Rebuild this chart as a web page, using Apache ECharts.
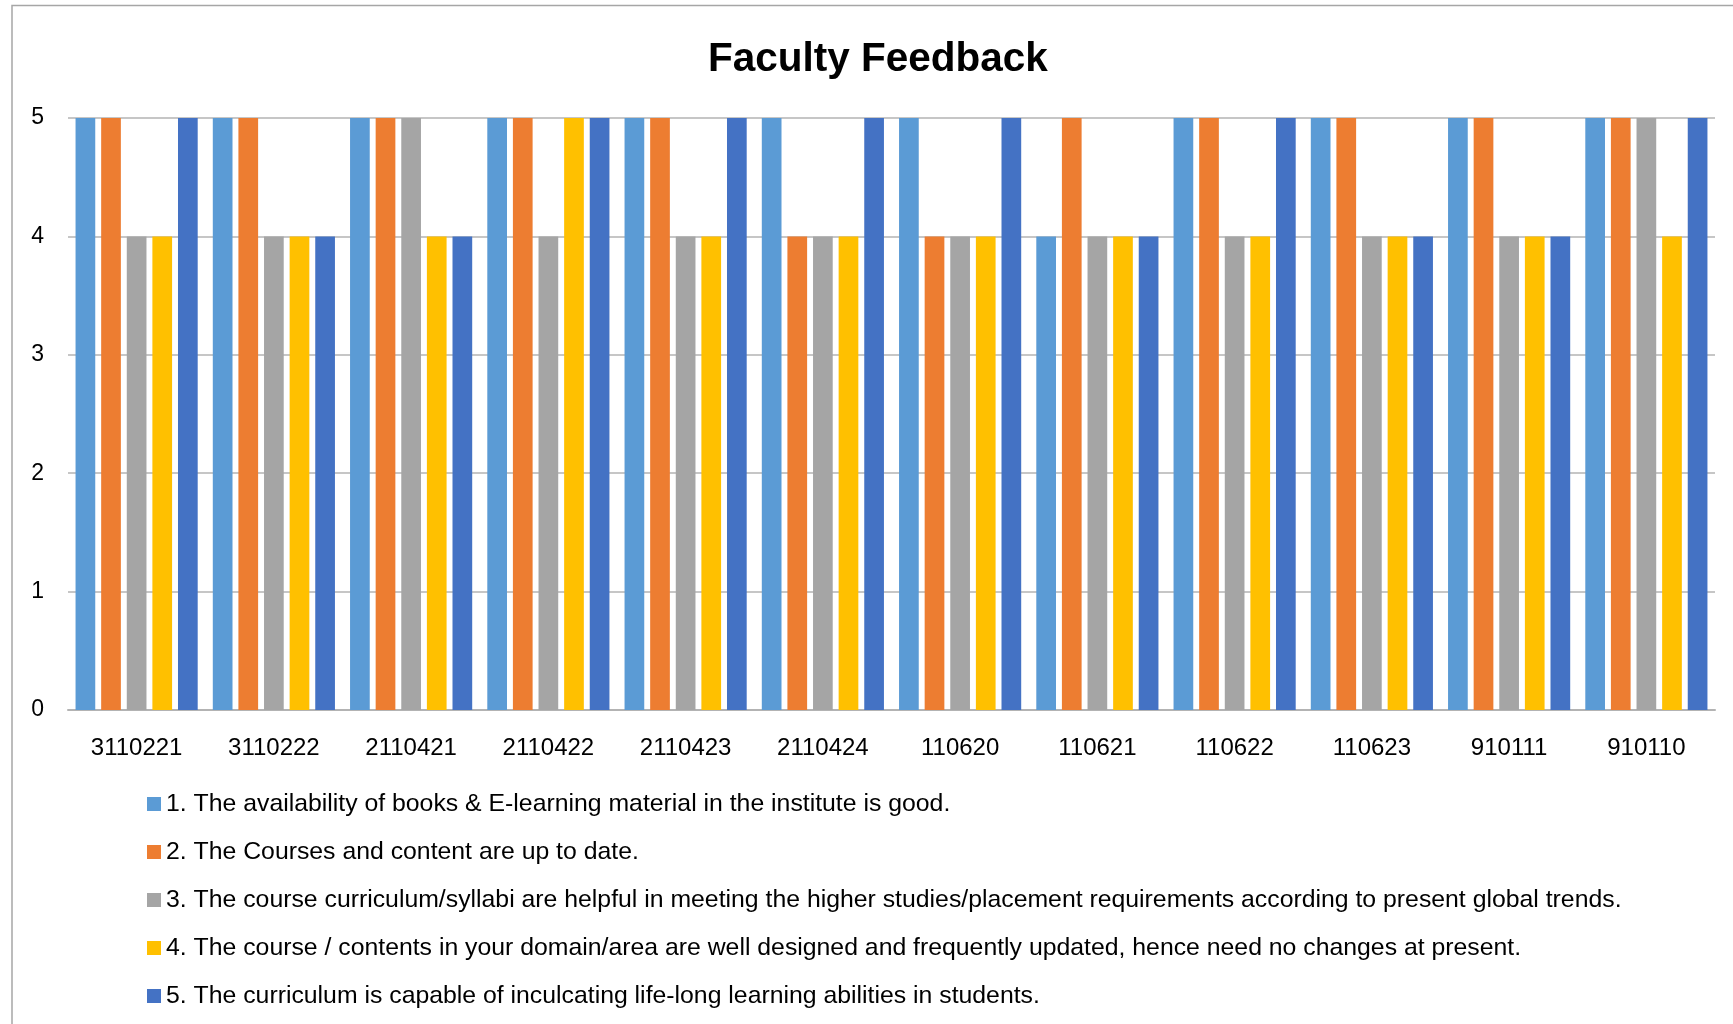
<!DOCTYPE html>
<html>
<head>
<meta charset="utf-8">
<title>Faculty Feedback</title>
<script src="https://cdn.jsdelivr.net/npm/echarts@6/dist/echarts.min.js"></script>
<style>
  html, body { margin: 0; padding: 0; background: #fff; }
  #chart { width: 1733px; height: 1024px; }
</style>
</head>
<body>
<div id="chart"></div>
<script>
const categories = ['3110221', '3110222', '2110421', '2110422', '2110423', '2110424',
  '110620', '110621', '110622', '110623', '910111', '910110'];

const seriesNames = [
  '1. The availability of books & E-learning material in the institute is good.',
  '2. The Courses and content are up to date.',
  '3. The course curriculum/syllabi are helpful in meeting the higher studies/placement requirements according to present global trends.',
  '4. The course / contents in your domain/area are well designed and frequently updated, hence need no changes at present.',
  '5. The curriculum is capable of inculcating life-long learning abilities in students.'
];

const q1 = [5, 5, 5, 5, 5, 5, 5, 4, 5, 5, 5, 5];
const q2 = [5, 5, 5, 5, 5, 4, 4, 5, 5, 5, 5, 5];
const q3 = [4, 4, 5, 4, 4, 4, 4, 4, 4, 4, 4, 5];
const q4 = [4, 4, 4, 5, 4, 4, 4, 4, 4, 4, 4, 4];
const q5 = [5, 4, 4, 5, 5, 5, 5, 4, 5, 4, 4, 5];

const yTicks = [0, 1, 2, 3, 4, 5];

const colors = ['#5B9BD5', '#ED7D31', '#A5A5A5', '#FFC000', '#4472C4'];
const font = 'Liberation Sans, Arial, sans-serif';

const chart = echarts.init(document.getElementById('chart'));

chart.setOption({
  animation: false,
  color: colors,
  title: {
    text: 'Faculty Feedback',
    left: 703,
    top: 34,
    textStyle: { fontFamily: font, fontSize: 40.5, fontWeight: 'bold', color: '#000' }
  },
  graphic: [{
    type: 'rect',
    shape: { x: 12, y: 5.5, width: 1800, height: 1100 },
    style: { fill: 'none', stroke: '#a6a6a6', lineWidth: 1.5 }
  }],
  legend: {
    orient: 'vertical',
    left: 142,
    top: 785,
    itemWidth: 14,
    itemHeight: 14,
    itemGap: 20,
    icon: 'rect',
    data: seriesNames,
    textStyle: { fontFamily: font, fontSize: 24.8, color: '#000', lineHeight: 28 }
  },
  grid: { left: 68, right: 18, top: 118, bottom: 314 },
  xAxis: {
    type: 'category',
    data: categories,
    axisTick: { show: false },
    axisLine: { lineStyle: { color: '#b3b3b3', width: 2 } },
    axisLabel: { fontFamily: font, fontSize: 24, color: '#000', margin: 26 }
  },
  yAxis: {
    type: 'value',
    min: 0,
    max: 5,
    interval: 1,
    axisLine: { show: false },
    axisTick: { show: false },
    splitLine: { lineStyle: { color: '#b3b3b3', width: 1.5 } },
    axisLabel: {
      fontFamily: font, fontSize: 23, color: '#000', margin: 24,
      formatter: v => yTicks.includes(v) ? String(v) : ''
    }
  },
  series: [q1, q2, q3, q4, q5].map((d, i) => ({
    name: seriesNames[i],
    type: 'bar',
    data: d,
    barGap: '30%',
    barCategoryGap: '11%'
  }))
});
</script>
</body>
</html>
